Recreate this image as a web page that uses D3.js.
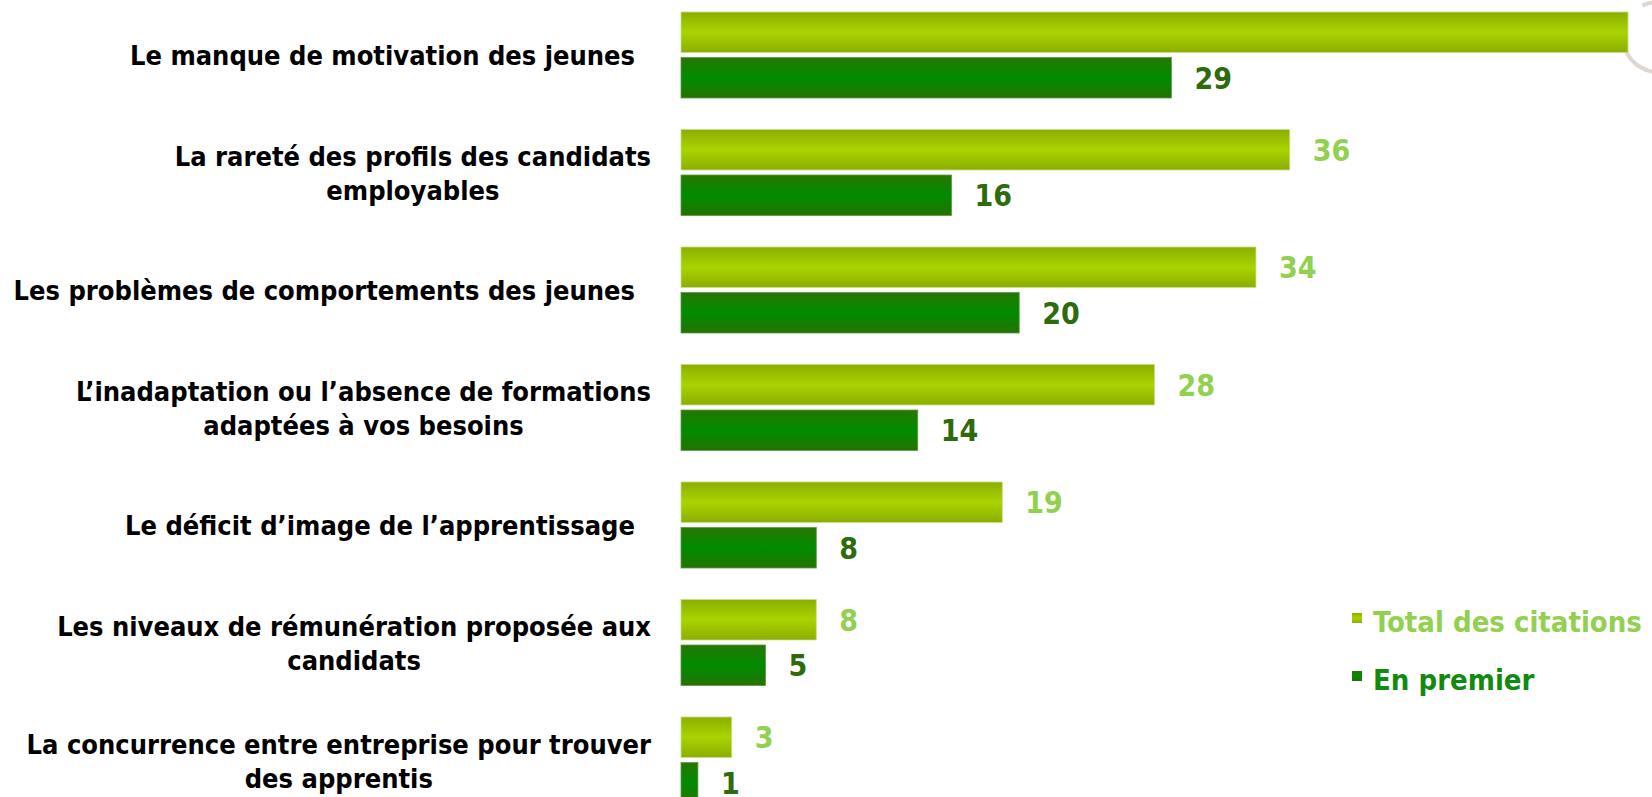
<!DOCTYPE html>
<html>
<head>
<meta charset="utf-8">
<script src="https://cdn.jsdelivr.net/npm/d3@7"></script>
<style>
  body { margin: 0; background: #fff; overflow: hidden; }
  svg text { font-family: "DejaVu Sans Condensed", "DejaVu Sans", sans-serif; font-weight: bold; }
</style>
</head>
<body>
<svg id="chart" width="1652" height="797"></svg>
<script>
// data
var categories = [
  ["Le manque de motivation des jeunes"],
  ["La rareté des profils des candidats", "employables"],
  ["Les problèmes de comportements des jeunes"],
  ["L\u2019inadaptation ou l\u2019absence de formations", "adaptées à vos besoins"],
  ["Le déficit d\u2019image de l\u2019apprentissage"],
  ["Les niveaux de rémunération proposée aux", "candidats"],
  ["La concurrence entre entreprise pour trouver", "des apprentis"]
];
var totalCitations = [56, 36, 34, 28, 19, 8, 3];
var enPremier = [29, 16, 20, 14, 8, 5, 1];
var seriesKeys = ["total", "premier"];
var seriesNames = ["Total des citations", "En premier"];

var svg = d3.select("#chart");

// colours
var barFill = {total: "url(#gradTotal)", premier: "url(#gradPremier)"};
var labelColor = {total: "#92d050", premier: "#2e6b0c"};
var legendColor = {total: "#92d050", premier: "#118a10"};

var defs = svg.append("defs");
function vGradient(id, stops){
  var g = defs.append("linearGradient").attr("id", id)
    .attr("x1", 0).attr("y1", 0).attr("x2", 0).attr("y2", 1);
  stops.forEach(function(s){
    g.append("stop").attr("offset", s[0]).attr("stop-color", s[1]);
  });
}
vGradient("gradTotal", [[0, "#8cae00"], [0.5, "#a9d400"], [1, "#8cad00"]]);
vGradient("gradPremier", [[0, "#277600"], [0.5, "#008c00"], [1, "#257200"]]);

// scales
var x = d3.scaleLinear().domain([0, 56]).range([681, 1628]);
var y = d3.scaleBand().domain(d3.range(categories.length))
  .range([12, 803]).paddingInner(0.268).paddingOuter(0);
var sub = d3.scaleBand().domain(seriesKeys)
  .range([0, y.bandwidth()]).paddingInner(0.11);

// decorative ring top-right (mostly off the slide)
svg.append("path")
  .attr("transform", "translate(1658,37)")
  .attr("d", d3.arc().innerRadius(33).outerRadius(37).startAngle(-0.46).endAngle(4.68)())
  .attr("fill", "#ddd7ce");

var rows = categories.map(function(c, i){
  return {label: c, values: [
    {key: "total", value: totalCitations[i]},
    {key: "premier", value: enPremier[i]}
  ]};
});

var groups = svg.selectAll("g.row").data(rows).enter().append("g")
  .attr("class", "row")
  .attr("transform", function(d, i){ return "translate(0," + y(i) + ")"; });

groups.selectAll("rect").data(function(d){ return d.values; }).enter().append("rect")
  .attr("x", x(0))
  .attr("y", function(d){ return sub(d.key); })
  .attr("width", function(d){ return x(d.value) - x(0); })
  .attr("height", sub.bandwidth())
  .attr("fill", function(d){ return barFill[d.key]; })
  .attr("stroke", function(d){ return d.key == "total" ? "#c9df8a" : "#5d9a4a"; })
  .attr("stroke-width", 0.8);

groups.selectAll("text.val").data(function(d){ return d.values; }).enter().append("text")
  .attr("class", "val")
  .attr("x", function(d){ return x(d.value) + 23; })
  .attr("y", function(d){ return sub(d.key) + sub.bandwidth() / 2 + 11; })
  .attr("font-size", 30)
  .attr("fill", function(d){ return labelColor[d.key]; })
  .text(function(d){ return d.value; });

// category labels
var mid = y.bandwidth() / 2;
groups.each(function(d){
  var g = d3.select(this);
  var t = g.append("text").attr("font-size", 27).attr("fill", "#000");
  if (d.label.length == 1) {
    t.attr("text-anchor", "end").attr("x", 635).attr("y", mid + 10).text(d.label[0]);
  } else {
    var spans = d.label.map(function(line, j){
      return t.append("tspan").attr("y", mid - 6 + j * 34).text(line);
    });
    var w = d3.max(spans, function(s){ return s.node().getComputedTextLength(); });
    t.attr("text-anchor", "middle");
    spans.forEach(function(s){ s.attr("x", 651 - w / 2); });
  }
});

// legend
var legend = svg.append("g").attr("transform", "translate(1352,0)");
var legendY = {total: 632, premier: 690};
seriesKeys.forEach(function(k, i){
  legend.append("rect")
    .attr("x", 0).attr("y", legendY[k] - 19)
    .attr("width", 10).attr("height", 10)
    .attr("fill", barFill[k]);
  legend.append("text")
    .attr("x", 21).attr("y", legendY[k])
    .attr("font-size", 29)
    .attr("fill", legendColor[k])
    .text(seriesNames[i]);
});
</script>
</body>
</html>
